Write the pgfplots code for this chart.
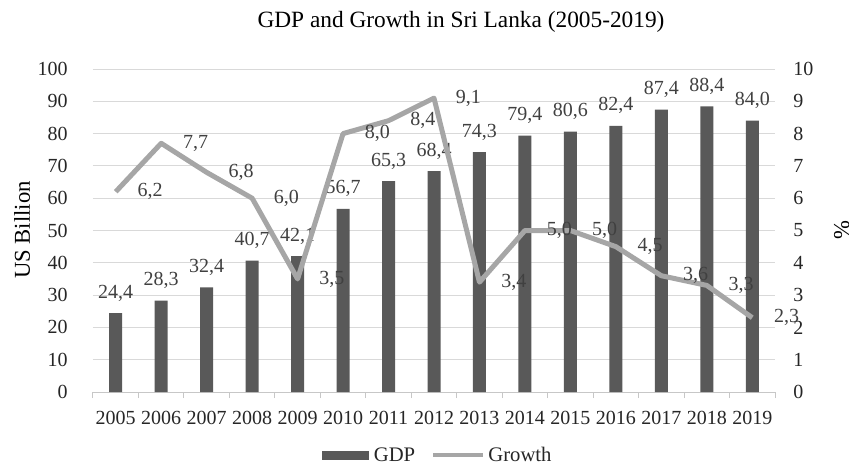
\documentclass[border=0pt]{standalone}
\usepackage{fontspec}
\setmainfont{Liberation Serif}
\usepackage{pgfplots}
\pgfplotsset{compat=1.18}
\usepackage{pgfplotstable}

\definecolor{gdpbar}{HTML}{595959}
\definecolor{growthline}{HTML}{A6A6A6}
\definecolor{gridgray}{HTML}{D9D9D9}
\definecolor{labelgray}{HTML}{404040}

% idx = category position, gdp in US billion, growth in %
\pgfplotstableread{
idx year gdp growth
0 2005 24.4 6.2
1 2006 28.3 7.7
2 2007 32.4 6.8
3 2008 40.7 6.0
4 2009 42.1 3.5
5 2010 56.7 8.0
6 2011 65.3 8.4
7 2012 68.4 9.1
8 2013 74.3 3.4
9 2014 79.4 5.0
10 2015 80.6 5.0
11 2016 82.4 4.5
12 2017 87.4 3.6
13 2018 88.4 3.3
14 2019 84.0 2.3
}\srilanka

\begin{document}
\begin{tikzpicture}
\useasboundingbox (-69.75pt,-54.75pt) rectangle (567pt,294pt);
\pgfplotsset{
  common/.style={
    width=511.5pt, height=242.25pt, scale only axis,
    at={(0,0)}, anchor=south west,
    xmin=-0.5, xmax=14.5,
    /pgf/number format/assume math mode=true,
    tick label style={font=\fontsize{15}{18}\selectfont, text=black!85},
  },
  commalabel/.style={
    /pgf/number format/fixed, /pgf/number format/fixed zerofill,
    /pgf/number format/precision=1, /pgf/number format/use comma,
  },
}
% left axis: GDP bars
\begin{axis}[common,
  ymin=0, ymax=100, ytick={0,10,...,100},
  ymajorgrids, grid style={gridgray, line width=0.75pt},
  axis x line*=bottom, axis y line*=left,
  y axis line style={draw=none},
  x axis line style={gridgray!80!gray, line width=0.75pt},
  xtick={0,...,14},
  xticklabels={2005,2006,2007,2008,2009,2010,2011,2012,2013,2014,2015,2016,2017,2018,2019},
  minor xtick={-0.5,0.5,...,14.5},
  major tick length=0pt, minor tick length=4.5pt, tick align=outside,
  xtick style={gridgray!80!gray, line width=0.75pt},
  ytick style={draw=none},
  xticklabel style={anchor=center, inner sep=0pt, yshift=-19.5pt},
  yticklabel style={anchor=east, inner sep=0pt, xshift=-18.75pt},
]
\addplot[ybar, bar width=9.75pt, fill=gdpbar, draw=none,
  commalabel,
  nodes near coords,
  nodes near coords style={anchor=base, inner sep=0pt, yshift=11.25pt,
    font=\fontsize{15}{18}\selectfont, text=labelgray, /pgfplots/commalabel},
] table[x=idx, y=gdp] {\srilanka};
\end{axis}
% right axis: growth line
\begin{axis}[common,
  ymin=0, ymax=10, ytick={0,1,...,10},
  axis y line*=right, axis x line=none,
  y axis line style={draw=none},
  ytick style={draw=none},
  yticklabel style={anchor=west, inner sep=0pt, xshift=13.5pt},
  legend columns=2,
  legend style={at={(0.505,-0.196)}, anchor=center, draw=none,
    font=\fontsize{15.5}{18}\selectfont, text=black!85,
    nodes={inner sep=1pt},
    /tikz/every even column/.append style={column sep=11pt}},
]
\addlegendimage{legend image code/.code={\fill[gdpbar] (0pt,-3pt) rectangle (34.5pt,3pt); \path (37.5pt,0pt);}}
\addlegendentry{GDP}
\addplot[growthline, line width=3.75pt, line join=round, mark=none,
  commalabel,
  nodes near coords,
  nodes near coords style={anchor=west, inner sep=0pt, xshift=14.5pt,
    font=\fontsize{15}{18}\selectfont, text=labelgray, /pgfplots/commalabel},
  legend image code/.code={\draw[growthline, line width=3pt] (0pt,0pt) -- (37.5pt,0pt); \path (38.5pt,0pt);},
] table[x=idx, y=growth] {\srilanka};
\addlegendentry{Growth}
\end{axis}

\node[font=\fontsize{17.5}{21}\selectfont] at (276pt,277.5pt) {GDP and Growth in Sri Lanka (2005-2019)};
\node[rotate=90, font=\fontsize{17}{20}\selectfont] at (-53.25pt,121.5pt) {US Billion};
\node[rotate=90, font=\fontsize{17}{20}\selectfont] at (561.5pt,121.5pt) {\%};
\end{tikzpicture}
\end{document}
